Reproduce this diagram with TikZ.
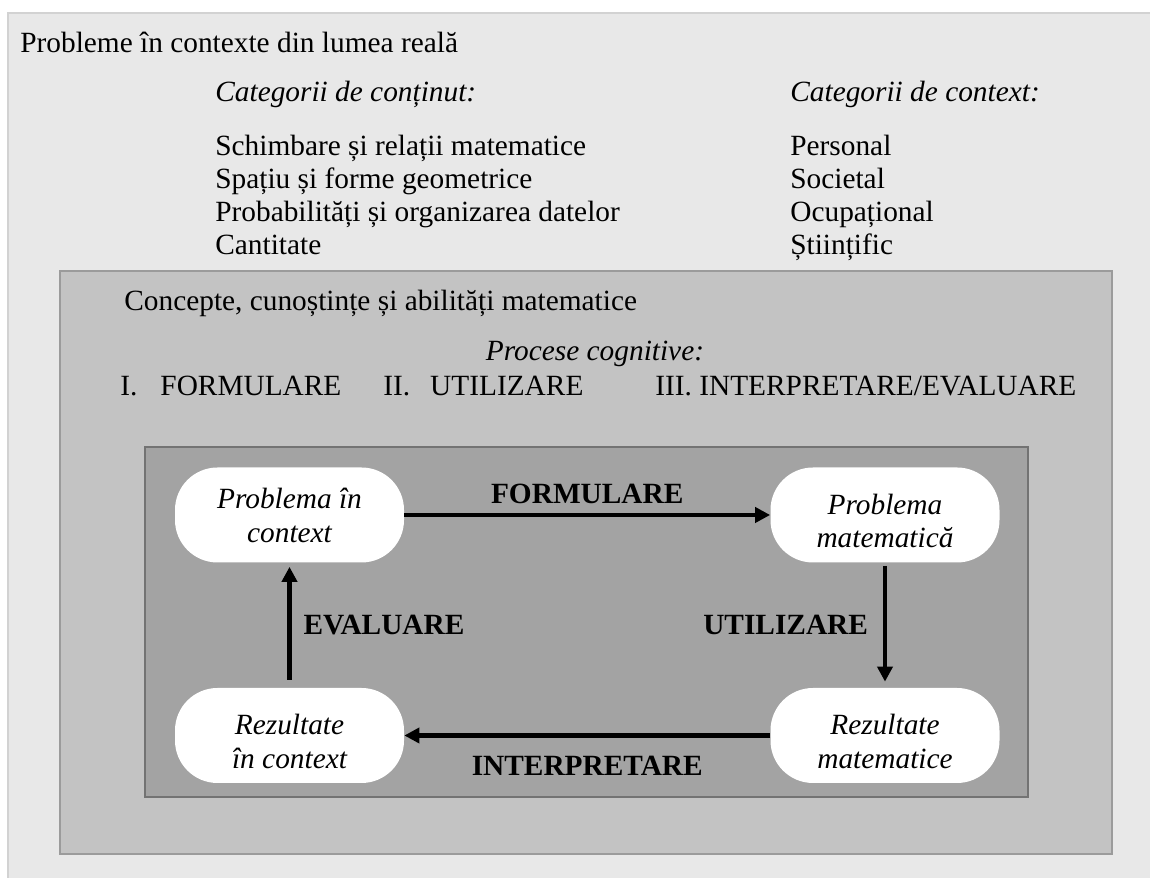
\documentclass[tikz,border=0pt]{standalone}
\usepackage{fontspec}
\setmainfont{Liberation Serif}
\usepackage{xcolor}
\usepackage{tikz}
\usetikzlibrary{arrows.meta}

\definecolor{outerfill}{HTML}{E8E8E8}
\definecolor{outerline}{HTML}{D2D2D2}
\definecolor{midfill}{HTML}{C3C3C3}
\definecolor{midline}{HTML}{9B9B9B}
\definecolor{innerfill}{HTML}{A3A3A3}
\definecolor{innerline}{HTML}{737373}
\newcommand{\diagfont}{\fontsize{16.7}{18.9}\selectfont}

\begin{document}
\begin{tikzpicture}[
    >={Triangle[length=0.3cm,width=0.3cm]},
    every node/.style={font=\diagfont, inner sep=0pt},
    band/.style={line width=0.8pt},
    stage/.style={fill=white, rounded corners=0.85cm, minimum width=4.58cm,
      minimum height=1.9cm, align=center,
      font=\fontsize{16.7}{19.3}\selectfont\itshape},
    lowtext/.style={text height=1.5cm, text depth=0.18cm},
    flow/.style={->, line width=2.3pt},
    tag/.style={font=\diagfont\bfseries}
  ]
    \useasboundingbox (0,0) rectangle (23,17.56);
    \draw[band, draw=outerline, fill=outerfill] (0.16,17.30) rectangle (23.2,-0.2);

    \node[anchor=base west] (lumea) at (0.40,16.50) {Probleme în contexte din lumea reală};
    \node[anchor=base west, font=\diagfont\itshape] (contenthead) at (4.30,15.52) {Categorii de conținut:};
    \node[anchor=base west, font=\diagfont\itshape] (contexthead) at (15.80,15.52) {Categorii de context:};
    \node[anchor=base west, align=left] (contentlist) at (4.30,12.46)
      {Schimbare și relații matematice\\Spațiu și forme geometrice\\Probabilități și organizarea datelor\\Cantitate};
    \node[anchor=base west, align=left] (contextlist) at (15.80,12.46)
      {Personal\\Societal\\Ocupațional\\Științific};

    \draw[band, draw=midline, fill=midfill] (1.20,12.14) rectangle (22.24,0.48);
    \node[anchor=base west] (concepte) at (2.48,11.34) {Concepte, cunoștințe și abilități matematice};
    \node[anchor=base, font=\diagfont\itshape] (procese) at (11.90,10.34) {Procese cognitive:};
    \node[anchor=base west] (procI) at (2.40,9.64) {I.\hspace{0.46cm}FORMULARE};
    \node[anchor=base west] (procII) at (7.66,9.64) {II.\hspace{0.4cm}UTILIZARE};
    \node[anchor=base west] (procIII) at (13.10,9.64) {III. INTERPRETARE/EVALUARE};

    \draw[band, draw=innerline, fill=innerfill] (2.90,8.62) rectangle (20.56,1.62);

    % the four stages of the cycle
    \node[stage] (PC) at (5.79,7.26) {Problema în\\context};
    \node[stage, lowtext] (PM) at (17.70,7.26) {Problema\\matematică};
    \node[stage, lowtext] (RC) at (5.79,2.85) {Rezultate\\în context};
    \node[stage, lowtext] (RM) at (17.70,2.85) {Rezultate\\matematice};

    \draw[flow] (PC) -- node[tag, above=0.18cm] {FORMULARE} (PM);
    \draw[flow, shorten <=0.06cm, shorten >=0.12cm] (PM) -- node[tag, left=0.3cm] {UTILIZARE} (RM);
    \draw[flow] (RM) -- node[tag, below=0.38cm] {INTERPRETARE} (RC);
    \draw[flow, shorten <=0.16cm, shorten >=0.08cm] (RC) -- node[tag, right=0.24cm] {EVALUARE} (PC);
  \end{tikzpicture}
\end{document}
